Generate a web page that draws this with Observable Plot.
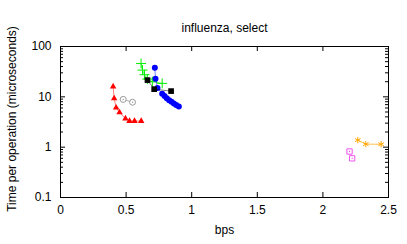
<!DOCTYPE html>
<html><head><meta charset="utf-8">
<script src="https://cdn.jsdelivr.net/npm/d3@7"></script>
<script src="https://cdn.jsdelivr.net/npm/@observablehq/plot@0.6"></script>
<style>body{margin:0;background:#fff} svg{font-family:"Liberation Sans",Arial,sans-serif}</style>
</head><body><div id="chart"></div>
<script>
const title = "influenza, select";
const xLabel = "bps";
const yLabel = "Time per operation (microseconds)";
const xTicks = [0, 0.5, 1, 1.5, 2, 2.5];
const yTicks = [0.1, 1, 10, 100];
const yTickLabels = ["0.1", "1", "10", "100"];

const redX = [0.401, 0.409, 0.424, 0.450, 0.495, 0.526, 0.564, 0.615];
const redY = [16, 9.3, 6.1, 4.9, 3.7, 3.3, 3.3, 3.3];
const grayX = [0.478, 0.549];
const grayY = [8.9, 7.8];
const greenX = [0.614, 0.625, 0.640, 0.662, 0.700, 0.775];
const greenY = [46, 34, 27.5, 22.5, 20, 18.5];
const blueX = [0.719, 0.724, 0.739, 0.775, 0.793, 0.810, 0.828, 0.846, 0.864, 0.882, 0.902];
const blueY = [38, 23, 15, 11.5, 10.4, 9.4, 8.6, 8.0, 7.4, 6.9, 6.4];
const blackX = [0.663, 0.714, 0.843];
const blackY = [21.5, 14.2, 13.0];
const orangeX = [2.266, 2.327, 2.444];
const orangeY = [1.38, 1.15, 1.14];
const magentaX = [2.203, 2.223];
const magentaY = [0.82, 0.60];

const pts = (xs, ys) => xs.map((x, i) => ({x, y: ys[i]}));
const red = pts(redX, redY), gray = pts(grayX, grayY), green = pts(greenX, greenY),
      blue = pts(blueX, blueY), black = pts(blackX, blackY),
      orange = pts(orangeX, orangeY), magenta = pts(magentaX, magentaY);

const W = 407, H = 244, mL = 60, mR = 19, mT = 46, mB = 47;
const fw = W - mL - mR, fh = H - mT - mB;
const major = 5, minor = 3;
const yMinor = [];
for (const d of [0.1, 1, 10]) for (let k = 2; k <= 9; k++) yMinor.push(d * k);

const chart = Plot.plot({
  width: W, height: H,
  marginLeft: mL, marginRight: mR, marginTop: mT, marginBottom: mB,
  style: {fontSize: "12px", fontFamily: "'Liberation Sans', Arial, sans-serif", background: "#fff"},
  x: {domain: [0, 2.5]},
  y: {type: "log", domain: [0.1, 100]},
  marks: [
    Plot.axisX({ticks: xTicks, tickSize: 0, tickPadding: 8, tickFormat: d => String(d), label: null}),
    Plot.axisY({ticks: yTicks, tickSize: 0, tickPadding: 9, tickFormat: d => yTickLabels[yTicks.indexOf(d)], label: null}),
    Plot.tickX(xTicks, {x: d => d, insetTop: fh - major}),
    Plot.tickX(xTicks, {x: d => d, insetBottom: fh - major}),
    Plot.tickY(yTicks, {y: d => d, insetRight: fw - major}),
    Plot.tickY(yTicks, {y: d => d, insetLeft: fw - major}),
    Plot.tickY(yMinor, {y: d => d, insetRight: fw - minor}),
    Plot.tickY(yMinor, {y: d => d, insetLeft: fw - minor}),
    Plot.frame({stroke: "black"}),
    Plot.text([title], {frameAnchor: "top", dy: -23, fontSize: 12}),
    Plot.text([xLabel], {frameAnchor: "bottom", dy: 36, fontSize: 12}),
    Plot.text([yLabel], {frameAnchor: "left", textAnchor: "middle", dx: -48, dy: -3, rotate: -90, fontSize: 12}),

    Plot.line(red, {x: "x", y: "y", stroke: "#ff0000", strokeOpacity: 0.5, strokeWidth: 1}),
    Plot.dot(red, {x: "x", y: "y", symbol: "triangle", r: 2.4, fill: "#ff0000"}),

    Plot.line(gray, {x: "x", y: "y", stroke: "#999", strokeOpacity: 0.8, strokeWidth: 1}),
    Plot.dot(gray, {x: "x", y: "y", symbol: "circle", r: 3, fill: "white", stroke: "#999", strokeWidth: 1}),
    Plot.dot(gray, {x: "x", y: "y", symbol: "circle", r: 0.7, fill: "#999"}),

    Plot.line(green, {x: "x", y: "y", stroke: "#00ee00", strokeOpacity: 0.6, strokeWidth: 1}),
    Plot.dot(green, {x: "x", y: "y", symbol: "plus", r: 3.3, stroke: "#00ee00", strokeWidth: 1}),

    Plot.line(blue, {x: "x", y: "y", stroke: "#0000ff", strokeOpacity: 0.5, strokeWidth: 1}),
    Plot.dot(blue, {x: "x", y: "y", symbol: "circle", r: 3, fill: "#0000ff"}),

    Plot.line(black, {x: "x", y: "y", stroke: "#000", strokeOpacity: 0.5, strokeWidth: 1}),
    Plot.dot(black, {x: "x", y: "y", symbol: "square", r: 3.2, fill: "#000"}),

    Plot.line(orange, {x: "x", y: "y", stroke: "#ffa500", strokeOpacity: 0.7, strokeWidth: 1}),
    Plot.dot(orange, {x: "x", y: "y", symbol: "asterisk", r: 3, stroke: "#ffa500", strokeWidth: 1}),

    Plot.line(magenta, {x: "x", y: "y", stroke: "#ee55ee", strokeOpacity: 0.5, strokeWidth: 1}),
    Plot.dot(magenta, {x: "x", y: "y", symbol: "square", r: 3, fill: "white", stroke: "#ee55ee", strokeWidth: 1}),
    Plot.dot(magenta, {x: "x", y: "y", symbol: "circle", r: 0.7, fill: "#ee55ee"})
  ]
});
document.getElementById("chart").appendChild(chart);
</script>
</body></html>
